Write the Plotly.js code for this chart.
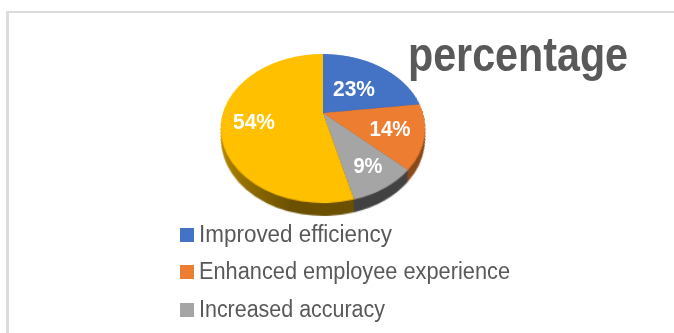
<!DOCTYPE html>
<html>
<head>
<meta charset="utf-8">
<script src="https://cdn.plot.ly/plotly-3.0.1.min.js"></script>
<style>
html,body{margin:0;padding:0;background:#fff;overflow:hidden}
#frame{position:absolute;left:6px;top:11px;width:668px;height:322px;border-left:3px solid #dcdcdc;border-top:2px solid #dcdcdc;box-sizing:border-box}
#chart{position:absolute;left:0;top:0;width:674px;height:333px}
</style>
</head>
<body>
<div id="frame"></div>
<div id="chart"></div>
<script>
const categories = ['Improved efficiency', 'Enhanced employee experience', 'Increased accuracy', 'Other'];
const values = [23, 14, 9, 54];
const topColors = ['#4472C4', '#ED7D31', '#A5A5A5', '#FFC000'];
const sideColors = ['#2a4576', '#8a4a1a', '#424242', '#7a5c00'];
const chartTitle = 'percentage';

const W = 674, H = 333, cx = 323, cy = 113, R = 100;
const depthSteps = [11, 9.5, 8, 6.5, 5, 3.5, 2, 1];
const wallShrink = 0.3;

function domainAt(depth) {
  const r = R - depth * wallShrink;
  const dy = depth * (1 + wallShrink);
  return {
    x: [(cx - r) / W, (cx + r) / W],
    y: [(H - (cy + dy) - r) / H, (H - (cy + dy) + r) / H]
  };
}
const pieBase = {
  type: 'pie', labels: categories, values: values, sort: false,
  direction: 'clockwise', rotation: 0, textinfo: 'none', hoverinfo: 'none'
};
const traces = depthSteps.map(d => Object.assign({}, pieBase, {
  domain: domainAt(d), showlegend: false,
  marker: {colors: sideColors, line: {width: 0}}
}));
traces.push(Object.assign({}, pieBase, {
  domain: domainAt(0), showlegend: true,
  marker: {colors: topColors, line: {width: 0}}
}));

const labelPos = [[354, 88], [390, 128], [368, 165], [254, 121]];
const labelWidths = [42, 41, 29, 42];
const legendWidths = [193, 311, 186];
const annotations = values.map((v, i) => ({
  text: v + '%', xref: 'paper', yref: 'paper',
  x: labelPos[i][0] / W, y: 1 - labelPos[i][1] / H,
  xanchor: 'center', yanchor: 'middle', showarrow: false,
  font: {family: '"Liberation Sans", Arial, sans-serif', size: 22, color: '#fff', weight: 700}
}));

const layout = {
  width: W, height: H,
  margin: {l: 0, r: 0, t: 0, b: 0},
  paper_bgcolor: 'rgba(0,0,0,0)',
  title: {
    text: chartTitle, x: 518 / W, xanchor: 'center', xref: 'paper',
    y: 1 - 54 / H, yanchor: 'middle', yref: 'paper',
    font: {family: '"Liberation Sans", Arial, sans-serif', size: 48, color: '#595959', weight: 700}
  },
  showlegend: true,
  legend: {
    x: 160 / W, xanchor: 'left', y: 1 - 100 / H, yanchor: 'top',
    bgcolor: 'rgba(0,0,0,0)', borderwidth: 0, traceorder: 'normal',
    font: {family: '"Liberation Sans", Arial, sans-serif', size: 23, color: '#595959'}
  },
  annotations: annotations
};

function fitWidth(el, w) {
  el.setAttribute('textLength', w);
  el.setAttribute('lengthAdjust', 'spacingAndGlyphs');
}

Plotly.newPlot('chart', traces, layout, {displayModeBar: false, staticPlot: true}).then(gd => {
  const pieSvg = gd.querySelector('.pielayer').ownerSVGElement;
  const info = gd.querySelector('.infolayer');
  if (info.ownerSVGElement === pieSvg) {
    const svgs = gd.querySelectorAll('svg.main-svg');
    svgs[svgs.length - 1].appendChild(info);
  }
  pieSvg.style.transformOrigin = cx + 'px ' + cy + 'px';
  pieSvg.style.transform = 'perspective(337px) rotateX(44.5deg)';
  pieSvg.style.overflow = 'visible';

  // gradient on the yellow wall
  const ns = 'http://www.w3.org/2000/svg';
  let defs = pieSvg.querySelector('defs');
  if (!defs) { defs = document.createElementNS(ns, 'defs'); pieSvg.insertBefore(defs, pieSvg.firstChild); }
  const g = document.createElementNS(ns, 'linearGradient');
  g.setAttribute('id', 'wallGold');
  [['0', '#b98c00'], ['0.3', '#8f6c00'], ['0.6', '#6b5000'], ['1', '#6b5000']].forEach(s => {
    const st = document.createElementNS(ns, 'stop');
    st.setAttribute('offset', s[0]); st.setAttribute('stop-color', s[1]);
    g.appendChild(st);
  });
  defs.appendChild(g);
  pieSvg.querySelectorAll('.pielayer .trace').forEach((t, i) => {
    if (i < depthSteps.length) {
      const slices = t.querySelectorAll('.slice path.surface');
      slices[3].style.fill = 'url(#wallGold)';
    }
  });

  // narrower letterforms, as in the picture
  const titleEl = info.querySelector('.gtitle');
  if (titleEl) fitWidth(titleEl, 220);
  info.querySelectorAll('.annotation-text').forEach((el, i) => fitWidth(el, labelWidths[i]));

  // legend rows
  const legend = info.querySelector('.legend');
  const sb = legend.querySelector('.scrollbox');
  sb.removeAttribute('clip-path');
  const rowsY = [235, 272, 310];
  const lx = legend.getAttribute('transform').match(/translate\(([-\d.]+),\s*([-\d.]+)\)/);
  const ox = parseFloat(lx[1]), oy = parseFloat(lx[2]);
  legend.querySelectorAll('.traces').forEach((row, i) => {
    if (i >= rowsY.length) { row.remove(); return; }
    row.setAttribute('transform', 'translate(' + (180 - ox) + ',' + (rowsY[i] - oy) + ')');
    const pts = row.querySelector('.legendpoints');
    pts.setAttribute('transform', 'translate(0,0)');
    const p = pts.querySelector('path');
    if (p) { p.setAttribute('d', 'M0,-7H14V7H0Z'); p.setAttribute('transform', ''); p.style.strokeWidth = '0'; }
    const tx = row.querySelector('text');
    tx.setAttribute('x', 19);
    tx.setAttribute('y', parseFloat(tx.getAttribute('y') || 0) - 1.5);
    fitWidth(tx, legendWidths[i]);
  });
  const bg = legend.querySelector('.bg'); if (bg) bg.style.display = 'none';
});
</script>
</body>
</html>
